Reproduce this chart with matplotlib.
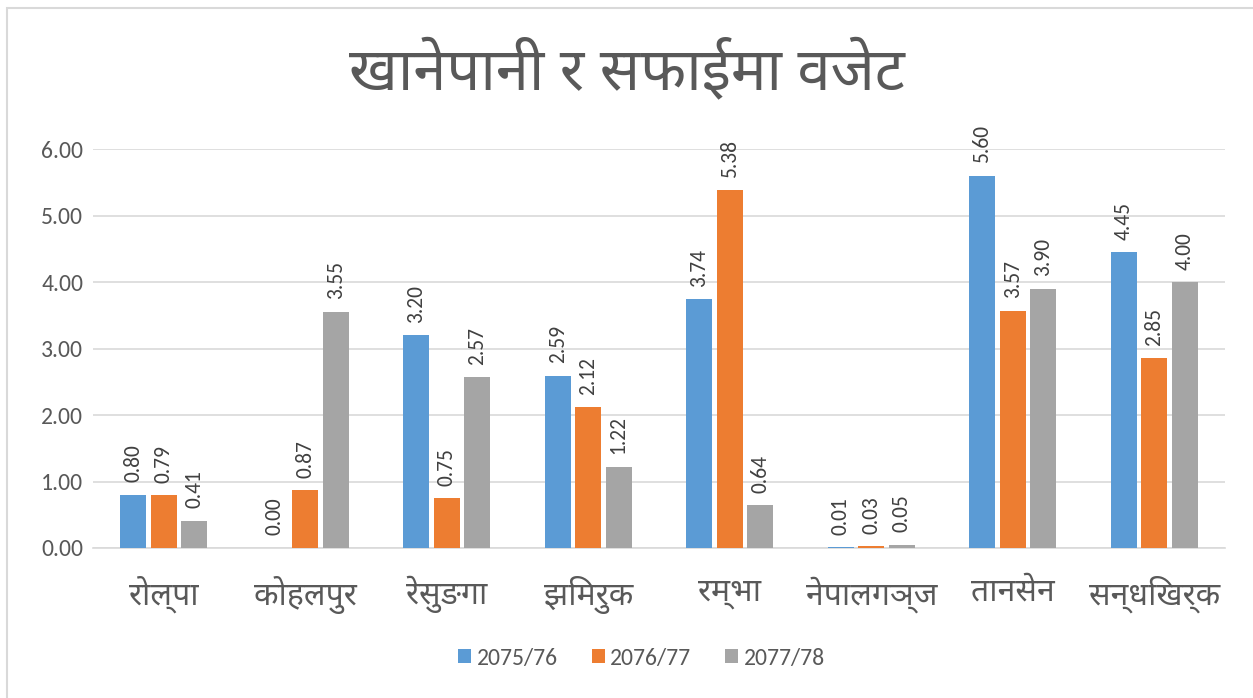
import matplotlib.pyplot as plt
import numpy as np
from matplotlib import font_manager
from matplotlib.patches import Rectangle

title = "खानेपानी र सफाईमा वजेट"
categories = ["रोल्पा", "कोहलपुर", "रेसुङगा", "झिमरुक", "रम्भा", "नेपालगञ्ज", "तानसेन", "सन्धिखर्क"]
series_names = ["2075/76", "2076/77", "2077/78"]
v_2075 = [0.80, 0.00, 3.20, 2.59, 3.74, 0.01, 5.60, 4.45]
v_2076 = [0.79, 0.87, 0.75, 2.12, 5.38, 0.03, 3.57, 2.85]
v_2077 = [0.41, 3.55, 2.57, 1.22, 0.64, 0.05, 3.90, 4.00]
y_ticks = [0, 1, 2, 3, 4, 5, 6]

colors = ["#5B9BD5", "#ED7D31", "#A5A5A5"]

installed = set(f.name for f in font_manager.fontManager.ttflist)


def pick(prefs, fallback):
    for p in prefs:
        if p in installed:
            return [p, fallback]
    return [fallback]


fam = pick(["Noto Sans Devanagari", "Hind", "Mukta", "FreeSans"], "DejaVu Sans")
num_fam = pick(["Carlito", "Open Sans"], "DejaVu Sans")

fig = plt.figure(figsize=(12.53, 6.98), dpi=100)
ax = fig.add_axes([0.0742, 0.2149, 0.9035, 0.5716])

x = np.arange(len(categories))
w = 0.185
step = 0.215
for j, vals in enumerate([v_2075, v_2076, v_2077]):
    pos = x + (j - 1) * step
    bars = ax.bar(pos, vals, width=w, color=colors[j], label=series_names[j], zorder=3)
    for b, v in zip(bars, vals):
        ax.annotate("%.2f" % v, (b.get_x() + b.get_width() / 2, v),
                    xytext=(0, 9), textcoords="offset points",
                    rotation=90, ha="center", va="bottom",
                    fontsize=15.5, color="#404040", family=num_fam)

ax.set_xlim(-0.5, len(categories) - 0.5)
ax.set_ylim(0, 6)
ax.set_yticks(y_ticks)
ax.set_yticklabels(["%.2f" % t for t in y_ticks], fontsize=17, color="#595959", family=num_fam)
ax.set_xticks(x)
ax.set_xticklabels(categories, fontsize=23, color="#595959", family=fam)
ax.tick_params(axis="both", length=0)
ax.tick_params(axis="x", pad=20)
ax.tick_params(axis="y", pad=7)
ax.grid(axis="y", color="#D9D9D9", linewidth=1.2, zorder=0)
for s in ["top", "right", "left"]:
    ax.spines[s].set_visible(False)
ax.spines["bottom"].set_color("#D9D9D9")
ax.spines["bottom"].set_linewidth(1.2)

fig.text(0.5, 0.897, title, ha="center", va="center", fontsize=43, color="#595959", family=fam)

leg = fig.legend(loc="center", bbox_to_anchor=(0.512, 0.057), ncol=3, frameon=False,
                 handlelength=0.55, handleheight=0.55, handletextpad=0.25, columnspacing=1.4,
                 prop={"family": num_fam, "size": 17})
for t in leg.get_texts():
    t.set_color("#595959")

# chart border
fig.patches.append(Rectangle((7 / 1253, -0.05), 1.1, 1 - 8 / 698 + 0.05, transform=fig.transFigure,
                             fill=False, edgecolor="#D9D9D9", linewidth=1.5))

fig.savefig("out.png", dpi=100)
